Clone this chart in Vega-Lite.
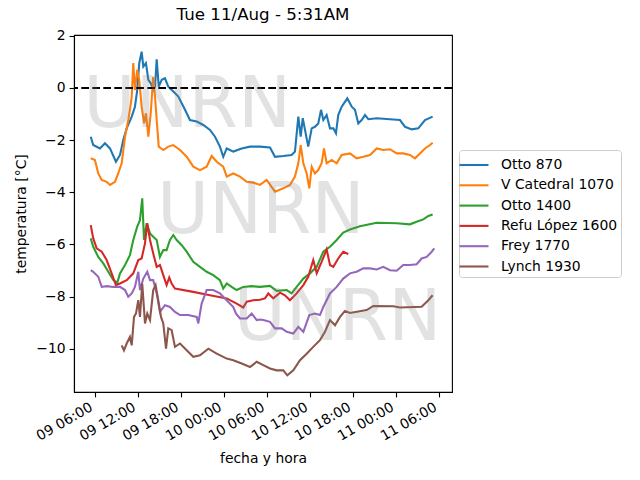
{
  "$schema": "https://vega.github.io/schema/vega-lite/v6.json",
  "autosize": {"type": "none"},
  "padding": {"left": 74, "top": 35, "right": 188, "bottom": 88},
  "width": 378,
  "height": 357,
  "background": "white",
  "title": {"text": "Tue 11/Aug - 5:31AM", "font": "DejaVu Sans", "fontSize": 16.67, "fontWeight": "normal", "color": "black", "anchor": "middle", "frame": "group", "offset": 5},
  "config": {
    "view": {"stroke": "black", "strokeWidth": 1.1},
    "axis": {"labelFont": "DejaVu Sans", "labelFontSize": 13.9, "labelColor": "black", "tickColor": "black", "tickWidth": 1.1, "tickSize": 4.9, "domainColor": "black", "domainWidth": 1.1, "titleFont": "DejaVu Sans", "titleFontSize": 13.9, "titleFontWeight": "normal", "titleColor": "black", "grid": false, "labelOverlap": false, "labelFlush": false}
  },
  "datasets": {
    "temps": [
      {"s":"Otto 870","t":"2020-08-09T05:27","v":-1.87},{"s":"Otto 870","t":"2020-08-09T05:48","v":-2.19},{"s":"Otto 870","t":"2020-08-09T06:44","v":-2.32},{"s":"Otto 870","t":"2020-08-09T07:26","v":-2.12},{"s":"Otto 870","t":"2020-08-09T08:08","v":-2.32},{"s":"Otto 870","t":"2020-08-09T08:58","v":-2.83},{"s":"Otto 870","t":"2020-08-09T09:32","v":-2.57},{"s":"Otto 870","t":"2020-08-09T09:59","v":-2.0},{"s":"Otto 870","t":"2020-08-09T10:28","v":-1.55},{"s":"Otto 870","t":"2020-08-09T11:10","v":-1.1},{"s":"Otto 870","t":"2020-08-09T11:37","v":-0.72},{"s":"Otto 870","t":"2020-08-09T11:56","v":-0.08},{"s":"Otto 870","t":"2020-08-09T12:13","v":0.95},{"s":"Otto 870","t":"2020-08-09T12:33","v":1.39},{"s":"Otto 870","t":"2020-08-09T12:47","v":0.82},{"s":"Otto 870","t":"2020-08-09T13:09","v":0.95},{"s":"Otto 870","t":"2020-08-09T13:29","v":0.31},{"s":"Otto 870","t":"2020-08-09T13:49","v":0.18},{"s":"Otto 870","t":"2020-08-09T14:10","v":-0.08},{"s":"Otto 870","t":"2020-08-09T14:25","v":0.05},{"s":"Otto 870","t":"2020-08-09T14:39","v":1.1},{"s":"Otto 870","t":"2020-08-09T14:56","v":0.05},{"s":"Otto 870","t":"2020-08-09T15:21","v":0.31},{"s":"Otto 870","t":"2020-08-09T15:48","v":0.37},{"s":"Otto 870","t":"2020-08-09T16:16","v":0.05},{"s":"Otto 870","t":"2020-08-09T16:58","v":-0.14},{"s":"Otto 870","t":"2020-08-09T17:40","v":-0.33},{"s":"Otto 870","t":"2020-08-09T18:36","v":-0.84},{"s":"Otto 870","t":"2020-08-09T19:17","v":-1.23},{"s":"Otto 870","t":"2020-08-09T20:14","v":-1.29},{"s":"Otto 870","t":"2020-08-09T21:09","v":-1.42},{"s":"Otto 870","t":"2020-08-09T22:05","v":-1.61},{"s":"Otto 870","t":"2020-08-09T22:47","v":-1.87},{"s":"Otto 870","t":"2020-08-09T23:28","v":-2.25},{"s":"Otto 870","t":"2020-08-09T23:56","v":-2.64},{"s":"Otto 870","t":"2020-08-10T00:25","v":-2.32},{"s":"Otto 870","t":"2020-08-10T01:20","v":-2.44},{"s":"Otto 870","t":"2020-08-10T02:30","v":-2.32},{"s":"Otto 870","t":"2020-08-10T03:40","v":-2.25},{"s":"Otto 870","t":"2020-08-10T05:03","v":-2.25},{"s":"Otto 870","t":"2020-08-10T06:27","v":-2.28},{"s":"Otto 870","t":"2020-08-10T07:09","v":-2.64},{"s":"Otto 870","t":"2020-08-10T08:18","v":-2.61},{"s":"Otto 870","t":"2020-08-10T09:28","v":-2.57},{"s":"Otto 870","t":"2020-08-10T09:56","v":-2.44},{"s":"Otto 870","t":"2020-08-10T10:24","v":-1.1},{"s":"Otto 870","t":"2020-08-10T10:44","v":-1.87},{"s":"Otto 870","t":"2020-08-10T11:01","v":-1.16},{"s":"Otto 870","t":"2020-08-10T11:20","v":-1.61},{"s":"Otto 870","t":"2020-08-10T11:47","v":-2.25},{"s":"Otto 870","t":"2020-08-10T12:16","v":-1.55},{"s":"Otto 870","t":"2020-08-10T12:43","v":-1.49},{"s":"Otto 870","t":"2020-08-10T13:11","v":-1.36},{"s":"Otto 870","t":"2020-08-10T13:34","v":-0.84},{"s":"Otto 870","t":"2020-08-10T13:53","v":-1.23},{"s":"Otto 870","t":"2020-08-10T14:21","v":-1.04},{"s":"Otto 870","t":"2020-08-10T14:49","v":-1.55},{"s":"Otto 870","t":"2020-08-10T15:17","v":-1.55},{"s":"Otto 870","t":"2020-08-10T15:39","v":-1.74},{"s":"Otto 870","t":"2020-08-10T15:58","v":-1.04},{"s":"Otto 870","t":"2020-08-10T16:27","v":-0.72},{"s":"Otto 870","t":"2020-08-10T17:14","v":-0.4},{"s":"Otto 870","t":"2020-08-10T17:51","v":-0.72},{"s":"Otto 870","t":"2020-08-10T18:18","v":-0.84},{"s":"Otto 870","t":"2020-08-10T18:46","v":-1.36},{"s":"Otto 870","t":"2020-08-10T19:14","v":-1.23},{"s":"Otto 870","t":"2020-08-10T19:42","v":-1.04},{"s":"Otto 870","t":"2020-08-10T20:10","v":-1.2},{"s":"Otto 870","t":"2020-08-10T21:20","v":-1.16},{"s":"Otto 870","t":"2020-08-10T23:11","v":-1.2},{"s":"Otto 870","t":"2020-08-11T00:35","v":-1.23},{"s":"Otto 870","t":"2020-08-11T01:17","v":-1.49},{"s":"Otto 870","t":"2020-08-11T02:13","v":-1.59},{"s":"Otto 870","t":"2020-08-11T03:08","v":-1.55},{"s":"Otto 870","t":"2020-08-11T04:04","v":-1.23},{"s":"Otto 870","t":"2020-08-11T05:08","v":-1.1},

      {"s":"V Catedral 1070","t":"2020-08-09T05:27","v":-2.7},{"s":"V Catedral 1070","t":"2020-08-09T06:02","v":-2.76},{"s":"V Catedral 1070","t":"2020-08-09T06:30","v":-3.28},{"s":"V Catedral 1070","t":"2020-08-09T06:59","v":-3.53},{"s":"V Catedral 1070","t":"2020-08-09T07:40","v":-3.6},{"s":"V Catedral 1070","t":"2020-08-09T08:08","v":-3.72},{"s":"V Catedral 1070","t":"2020-08-09T08:50","v":-3.6},{"s":"V Catedral 1070","t":"2020-08-09T09:17","v":-3.28},{"s":"V Catedral 1070","t":"2020-08-09T09:46","v":-2.89},{"s":"V Catedral 1070","t":"2020-08-09T10:14","v":-1.87},{"s":"V Catedral 1070","t":"2020-08-09T10:41","v":-1.23},{"s":"V Catedral 1070","t":"2020-08-09T10:55","v":-0.84},{"s":"V Catedral 1070","t":"2020-08-09T11:10","v":-0.33},{"s":"V Catedral 1070","t":"2020-08-09T11:23","v":0.95},{"s":"V Catedral 1070","t":"2020-08-09T11:37","v":-0.08},{"s":"V Catedral 1070","t":"2020-08-09T11:56","v":0.69},{"s":"V Catedral 1070","t":"2020-08-09T12:13","v":0.31},{"s":"V Catedral 1070","t":"2020-08-09T12:33","v":-0.72},{"s":"V Catedral 1070","t":"2020-08-09T12:53","v":-1.36},{"s":"V Catedral 1070","t":"2020-08-09T13:09","v":-0.97},{"s":"V Catedral 1070","t":"2020-08-09T13:29","v":-1.87},{"s":"V Catedral 1070","t":"2020-08-09T13:49","v":-0.97},{"s":"V Catedral 1070","t":"2020-08-09T14:10","v":0.43},{"s":"V Catedral 1070","t":"2020-08-09T14:25","v":-0.33},{"s":"V Catedral 1070","t":"2020-08-09T14:39","v":-1.23},{"s":"V Catedral 1070","t":"2020-08-09T14:56","v":-2.25},{"s":"V Catedral 1070","t":"2020-08-09T15:34","v":-2.38},{"s":"V Catedral 1070","t":"2020-08-09T16:16","v":-2.25},{"s":"V Catedral 1070","t":"2020-08-09T16:58","v":-2.19},{"s":"V Catedral 1070","t":"2020-08-09T17:54","v":-2.38},{"s":"V Catedral 1070","t":"2020-08-09T18:50","v":-2.64},{"s":"V Catedral 1070","t":"2020-08-09T19:45","v":-3.02},{"s":"V Catedral 1070","t":"2020-08-09T20:41","v":-3.15},{"s":"V Catedral 1070","t":"2020-08-09T21:37","v":-3.02},{"s":"V Catedral 1070","t":"2020-08-09T22:19","v":-2.61},{"s":"V Catedral 1070","t":"2020-08-09T23:01","v":-2.83},{"s":"V Catedral 1070","t":"2020-08-09T23:56","v":-3.02},{"s":"V Catedral 1070","t":"2020-08-10T00:25","v":-3.4},{"s":"V Catedral 1070","t":"2020-08-10T01:20","v":-3.28},{"s":"V Catedral 1070","t":"2020-08-10T02:16","v":-3.4},{"s":"V Catedral 1070","t":"2020-08-10T03:12","v":-3.6},{"s":"V Catedral 1070","t":"2020-08-10T04:07","v":-3.63},{"s":"V Catedral 1070","t":"2020-08-10T05:03","v":-3.72},{"s":"V Catedral 1070","t":"2020-08-10T05:59","v":-3.53},{"s":"V Catedral 1070","t":"2020-08-10T07:09","v":-3.98},{"s":"V Catedral 1070","t":"2020-08-10T08:18","v":-3.85},{"s":"V Catedral 1070","t":"2020-08-10T09:14","v":-3.72},{"s":"V Catedral 1070","t":"2020-08-10T09:56","v":-3.4},{"s":"V Catedral 1070","t":"2020-08-10T10:24","v":-2.89},{"s":"V Catedral 1070","t":"2020-08-10T10:44","v":-2.19},{"s":"V Catedral 1070","t":"2020-08-10T11:06","v":-2.89},{"s":"V Catedral 1070","t":"2020-08-10T11:34","v":-3.28},{"s":"V Catedral 1070","t":"2020-08-10T11:56","v":-3.85},{"s":"V Catedral 1070","t":"2020-08-10T12:16","v":-3.02},{"s":"V Catedral 1070","t":"2020-08-10T12:43","v":-3.28},{"s":"V Catedral 1070","t":"2020-08-10T13:11","v":-3.15},{"s":"V Catedral 1070","t":"2020-08-10T13:39","v":-2.89},{"s":"V Catedral 1070","t":"2020-08-10T13:59","v":-2.32},{"s":"V Catedral 1070","t":"2020-08-10T14:21","v":-2.89},{"s":"V Catedral 1070","t":"2020-08-10T15:03","v":-2.76},{"s":"V Catedral 1070","t":"2020-08-10T15:45","v":-2.89},{"s":"V Catedral 1070","t":"2020-08-10T16:27","v":-2.57},{"s":"V Catedral 1070","t":"2020-08-10T17:36","v":-2.51},{"s":"V Catedral 1070","t":"2020-08-10T18:32","v":-2.7},{"s":"V Catedral 1070","t":"2020-08-10T19:28","v":-2.64},{"s":"V Catedral 1070","t":"2020-08-10T20:24","v":-2.57},{"s":"V Catedral 1070","t":"2020-08-10T21:20","v":-2.32},{"s":"V Catedral 1070","t":"2020-08-10T22:15","v":-2.38},{"s":"V Catedral 1070","t":"2020-08-10T23:11","v":-2.35},{"s":"V Catedral 1070","t":"2020-08-11T00:07","v":-2.51},{"s":"V Catedral 1070","t":"2020-08-11T01:02","v":-2.51},{"s":"V Catedral 1070","t":"2020-08-11T01:58","v":-2.57},{"s":"V Catedral 1070","t":"2020-08-11T02:40","v":-2.7},{"s":"V Catedral 1070","t":"2020-08-11T03:22","v":-2.51},{"s":"V Catedral 1070","t":"2020-08-11T04:04","v":-2.32},{"s":"V Catedral 1070","t":"2020-08-11T04:46","v":-2.19},{"s":"V Catedral 1070","t":"2020-08-11T05:08","v":-2.1},

      {"s":"Otto 1400","t":"2020-08-09T05:27","v":-5.77},{"s":"Otto 1400","t":"2020-08-09T05:48","v":-6.09},{"s":"Otto 1400","t":"2020-08-09T06:30","v":-6.48},{"s":"Otto 1400","t":"2020-08-09T07:12","v":-6.73},{"s":"Otto 1400","t":"2020-08-09T07:54","v":-7.05},{"s":"Otto 1400","t":"2020-08-09T08:36","v":-7.37},{"s":"Otto 1400","t":"2020-08-09T09:09","v":-7.47},{"s":"Otto 1400","t":"2020-08-09T09:32","v":-7.11},{"s":"Otto 1400","t":"2020-08-09T10:14","v":-6.79},{"s":"Otto 1400","t":"2020-08-09T10:55","v":-6.41},{"s":"Otto 1400","t":"2020-08-09T11:23","v":-5.83},{"s":"Otto 1400","t":"2020-08-09T11:56","v":-5.32},{"s":"Otto 1400","t":"2020-08-09T12:19","v":-5.07},{"s":"Otto 1400","t":"2020-08-09T12:38","v":-4.23},{"s":"Otto 1400","t":"2020-08-09T12:53","v":-5.83},{"s":"Otto 1400","t":"2020-08-09T13:15","v":-5.19},{"s":"Otto 1400","t":"2020-08-09T13:43","v":-5.58},{"s":"Otto 1400","t":"2020-08-09T14:10","v":-5.71},{"s":"Otto 1400","t":"2020-08-09T14:39","v":-5.83},{"s":"Otto 1400","t":"2020-08-09T15:06","v":-6.48},{"s":"Otto 1400","t":"2020-08-09T15:34","v":-6.22},{"s":"Otto 1400","t":"2020-08-09T16:02","v":-6.22},{"s":"Otto 1400","t":"2020-08-09T16:30","v":-5.83},{"s":"Otto 1400","t":"2020-08-09T16:58","v":-5.64},{"s":"Otto 1400","t":"2020-08-09T17:26","v":-5.83},{"s":"Otto 1400","t":"2020-08-09T18:08","v":-6.03},{"s":"Otto 1400","t":"2020-08-09T18:50","v":-6.28},{"s":"Otto 1400","t":"2020-08-09T19:45","v":-6.67},{"s":"Otto 1400","t":"2020-08-09T20:41","v":-6.86},{"s":"Otto 1400","t":"2020-08-09T21:37","v":-7.05},{"s":"Otto 1400","t":"2020-08-09T22:32","v":-7.18},{"s":"Otto 1400","t":"2020-08-09T23:28","v":-7.37},{"s":"Otto 1400","t":"2020-08-09T23:56","v":-7.69},{"s":"Otto 1400","t":"2020-08-10T00:25","v":-7.5},{"s":"Otto 1400","t":"2020-08-10T01:06","v":-7.63},{"s":"Otto 1400","t":"2020-08-10T01:48","v":-7.75},{"s":"Otto 1400","t":"2020-08-10T02:43","v":-7.63},{"s":"Otto 1400","t":"2020-08-10T03:54","v":-7.6},{"s":"Otto 1400","t":"2020-08-10T05:03","v":-7.63},{"s":"Otto 1400","t":"2020-08-10T06:27","v":-7.59},{"s":"Otto 1400","t":"2020-08-10T07:23","v":-7.78},{"s":"Otto 1400","t":"2020-08-10T08:47","v":-7.75},{"s":"Otto 1400","t":"2020-08-10T09:28","v":-7.88},{"s":"Otto 1400","t":"2020-08-10T10:10","v":-7.63},{"s":"Otto 1400","t":"2020-08-10T11:06","v":-7.31},{"s":"Otto 1400","t":"2020-08-10T12:02","v":-7.11},{"s":"Otto 1400","t":"2020-08-10T12:58","v":-6.86},{"s":"Otto 1400","t":"2020-08-10T13:53","v":-6.28},{"s":"Otto 1400","t":"2020-08-10T14:49","v":-6.09},{"s":"Otto 1400","t":"2020-08-10T15:45","v":-5.83},{"s":"Otto 1400","t":"2020-08-10T16:40","v":-5.55},{"s":"Otto 1400","t":"2020-08-10T17:36","v":-5.43},{"s":"Otto 1400","t":"2020-08-10T19:00","v":-5.3},{"s":"Otto 1400","t":"2020-08-10T21:20","v":-5.17},{"s":"Otto 1400","t":"2020-08-11T00:07","v":-5.19},{"s":"Otto 1400","t":"2020-08-11T01:58","v":-5.23},{"s":"Otto 1400","t":"2020-08-11T02:54","v":-5.13},{"s":"Otto 1400","t":"2020-08-11T03:50","v":-5.04},{"s":"Otto 1400","t":"2020-08-11T04:32","v":-4.91},{"s":"Otto 1400","t":"2020-08-11T05:08","v":-4.85},

      {"s":"Refu López 1600","t":"2020-08-09T05:27","v":-5.26},{"s":"Refu López 1600","t":"2020-08-09T05:48","v":-5.77},{"s":"Refu López 1600","t":"2020-08-09T06:17","v":-6.15},{"s":"Refu López 1600","t":"2020-08-09T06:59","v":-6.28},{"s":"Refu López 1600","t":"2020-08-09T07:40","v":-6.6},{"s":"Refu López 1600","t":"2020-08-09T08:22","v":-7.11},{"s":"Refu López 1600","t":"2020-08-09T08:58","v":-7.56},{"s":"Refu López 1600","t":"2020-08-09T09:32","v":-7.5},{"s":"Refu López 1600","t":"2020-08-09T10:28","v":-7.37},{"s":"Refu López 1600","t":"2020-08-09T11:23","v":-7.11},{"s":"Refu López 1600","t":"2020-08-09T12:05","v":-6.6},{"s":"Refu López 1600","t":"2020-08-09T12:33","v":-6.54},{"s":"Refu López 1600","t":"2020-08-09T13:01","v":-5.96},{"s":"Refu López 1600","t":"2020-08-09T13:20","v":-5.19},{"s":"Refu López 1600","t":"2020-08-09T13:43","v":-5.83},{"s":"Refu López 1600","t":"2020-08-09T14:10","v":-6.35},{"s":"Refu López 1600","t":"2020-08-09T14:39","v":-6.86},{"s":"Refu López 1600","t":"2020-08-09T15:06","v":-6.79},{"s":"Refu López 1600","t":"2020-08-09T15:34","v":-7.18},{"s":"Refu López 1600","t":"2020-08-09T16:02","v":-7.56},{"s":"Refu López 1600","t":"2020-08-09T16:24","v":-7.27},{"s":"Refu López 1600","t":"2020-08-09T16:44","v":-7.5},{"s":"Refu López 1600","t":"2020-08-09T17:12","v":-7.69},{"s":"Refu López 1600","t":"2020-08-09T19:45","v":-7.82},{"s":"Refu López 1600","t":"2020-08-09T22:05","v":-7.95},{"s":"Refu López 1600","t":"2020-08-10T00:25","v":-8.07},{"s":"Refu López 1600","t":"2020-08-10T01:48","v":-8.27},{"s":"Refu López 1600","t":"2020-08-10T02:43","v":-8.42},{"s":"Refu López 1600","t":"2020-08-10T03:12","v":-8.2},{"s":"Refu López 1600","t":"2020-08-10T04:07","v":-8.14},{"s":"Refu López 1600","t":"2020-08-10T05:03","v":-8.12},{"s":"Refu López 1600","t":"2020-08-10T05:45","v":-8.07},{"s":"Refu López 1600","t":"2020-08-10T06:13","v":-7.88},{"s":"Refu López 1600","t":"2020-08-10T06:55","v":-8.07},{"s":"Refu López 1600","t":"2020-08-10T07:51","v":-7.85},{"s":"Refu López 1600","t":"2020-08-10T08:32","v":-7.95},{"s":"Refu López 1600","t":"2020-08-10T09:14","v":-8.14},{"s":"Refu López 1600","t":"2020-08-10T10:10","v":-7.88},{"s":"Refu López 1600","t":"2020-08-10T11:06","v":-7.56},{"s":"Refu López 1600","t":"2020-08-10T11:47","v":-7.24},{"s":"Refu López 1600","t":"2020-08-10T12:29","v":-6.6},{"s":"Refu López 1600","t":"2020-08-10T12:58","v":-7.11},{"s":"Refu López 1600","t":"2020-08-10T13:39","v":-6.67},{"s":"Refu López 1600","t":"2020-08-10T14:21","v":-6.19},{"s":"Refu López 1600","t":"2020-08-10T14:49","v":-6.79},{"s":"Refu López 1600","t":"2020-08-10T15:17","v":-6.86},{"s":"Refu López 1600","t":"2020-08-10T15:58","v":-6.54},{"s":"Refu López 1600","t":"2020-08-10T16:40","v":-6.28},{"s":"Refu López 1600","t":"2020-08-10T17:22","v":-6.37},

      {"s":"Frey 1770","t":"2020-08-09T05:27","v":-6.99},{"s":"Frey 1770","t":"2020-08-09T05:48","v":-7.05},{"s":"Frey 1770","t":"2020-08-09T06:30","v":-7.24},{"s":"Frey 1770","t":"2020-08-09T06:59","v":-7.63},{"s":"Frey 1770","t":"2020-08-09T07:40","v":-7.6},{"s":"Frey 1770","t":"2020-08-09T08:36","v":-7.63},{"s":"Frey 1770","t":"2020-08-09T09:32","v":-7.63},{"s":"Frey 1770","t":"2020-08-09T10:14","v":-7.75},{"s":"Frey 1770","t":"2020-08-09T10:41","v":-8.01},{"s":"Frey 1770","t":"2020-08-09T11:10","v":-7.88},{"s":"Frey 1770","t":"2020-08-09T11:37","v":-7.63},{"s":"Frey 1770","t":"2020-08-09T12:05","v":-7.05},{"s":"Frey 1770","t":"2020-08-09T12:19","v":-7.75},{"s":"Frey 1770","t":"2020-08-09T12:47","v":-7.31},{"s":"Frey 1770","t":"2020-08-09T13:20","v":-7.05},{"s":"Frey 1770","t":"2020-08-09T13:43","v":-7.37},{"s":"Frey 1770","t":"2020-08-09T14:10","v":-7.37},{"s":"Frey 1770","t":"2020-08-09T14:39","v":-7.88},{"s":"Frey 1770","t":"2020-08-09T15:06","v":-8.59},{"s":"Frey 1770","t":"2020-08-09T15:48","v":-8.33},{"s":"Frey 1770","t":"2020-08-09T16:30","v":-8.4},{"s":"Frey 1770","t":"2020-08-09T17:12","v":-8.59},{"s":"Frey 1770","t":"2020-08-09T17:54","v":-8.71},{"s":"Frey 1770","t":"2020-08-09T19:03","v":-8.71},{"s":"Frey 1770","t":"2020-08-09T20:14","v":-8.78},{"s":"Frey 1770","t":"2020-08-09T20:27","v":-9.03},{"s":"Frey 1770","t":"2020-08-09T20:55","v":-8.27},{"s":"Frey 1770","t":"2020-08-09T21:37","v":-7.75},{"s":"Frey 1770","t":"2020-08-09T22:32","v":-7.75},{"s":"Frey 1770","t":"2020-08-09T23:28","v":-7.88},{"s":"Frey 1770","t":"2020-08-10T00:25","v":-8.14},{"s":"Frey 1770","t":"2020-08-10T01:20","v":-8.4},{"s":"Frey 1770","t":"2020-08-10T01:42","v":-8.65},{"s":"Frey 1770","t":"2020-08-10T02:16","v":-8.84},{"s":"Frey 1770","t":"2020-08-10T03:12","v":-8.84},{"s":"Frey 1770","t":"2020-08-10T03:54","v":-8.65},{"s":"Frey 1770","t":"2020-08-10T04:36","v":-8.9},{"s":"Frey 1770","t":"2020-08-10T05:03","v":-8.88},{"s":"Frey 1770","t":"2020-08-10T05:31","v":-8.9},{"s":"Frey 1770","t":"2020-08-10T06:27","v":-8.97},{"s":"Frey 1770","t":"2020-08-10T07:09","v":-9.22},{"s":"Frey 1770","t":"2020-08-10T08:05","v":-9.22},{"s":"Frey 1770","t":"2020-08-10T08:47","v":-9.35},{"s":"Frey 1770","t":"2020-08-10T09:42","v":-9.42},{"s":"Frey 1770","t":"2020-08-10T10:24","v":-9.16},{"s":"Frey 1770","t":"2020-08-10T11:06","v":-9.35},{"s":"Frey 1770","t":"2020-08-10T11:56","v":-8.71},{"s":"Frey 1770","t":"2020-08-10T12:43","v":-8.65},{"s":"Frey 1770","t":"2020-08-10T13:25","v":-8.71},{"s":"Frey 1770","t":"2020-08-10T13:53","v":-8.4},{"s":"Frey 1770","t":"2020-08-10T14:49","v":-7.88},{"s":"Frey 1770","t":"2020-08-10T15:45","v":-7.63},{"s":"Frey 1770","t":"2020-08-10T16:40","v":-7.31},{"s":"Frey 1770","t":"2020-08-10T17:36","v":-7.11},{"s":"Frey 1770","t":"2020-08-10T18:32","v":-7.05},{"s":"Frey 1770","t":"2020-08-10T19:28","v":-6.92},{"s":"Frey 1770","t":"2020-08-10T20:24","v":-6.92},{"s":"Frey 1770","t":"2020-08-10T21:20","v":-6.96},{"s":"Frey 1770","t":"2020-08-10T22:15","v":-6.86},{"s":"Frey 1770","t":"2020-08-10T23:11","v":-6.99},{"s":"Frey 1770","t":"2020-08-11T00:07","v":-7.01},{"s":"Frey 1770","t":"2020-08-11T01:02","v":-6.79},{"s":"Frey 1770","t":"2020-08-11T01:58","v":-6.79},{"s":"Frey 1770","t":"2020-08-11T02:54","v":-6.76},{"s":"Frey 1770","t":"2020-08-11T03:36","v":-6.54},{"s":"Frey 1770","t":"2020-08-11T04:18","v":-6.48},{"s":"Frey 1770","t":"2020-08-11T05:00","v":-6.28},{"s":"Frey 1770","t":"2020-08-11T05:22","v":-6.15},

      {"s":"Lynch 1930","t":"2020-08-09T09:46","v":-9.87},{"s":"Lynch 1930","t":"2020-08-09T10:05","v":-10.06},{"s":"Lynch 1930","t":"2020-08-09T10:28","v":-9.8},{"s":"Lynch 1930","t":"2020-08-09T10:55","v":-9.55},{"s":"Lynch 1930","t":"2020-08-09T11:10","v":-9.87},{"s":"Lynch 1930","t":"2020-08-09T11:29","v":-8.78},{"s":"Lynch 1930","t":"2020-08-09T11:46","v":-8.65},{"s":"Lynch 1930","t":"2020-08-09T12:05","v":-8.14},{"s":"Lynch 1930","t":"2020-08-09T12:19","v":-8.78},{"s":"Lynch 1930","t":"2020-08-09T12:38","v":-7.5},{"s":"Lynch 1930","t":"2020-08-09T13:01","v":-9.03},{"s":"Lynch 1930","t":"2020-08-09T13:20","v":-8.65},{"s":"Lynch 1930","t":"2020-08-09T13:43","v":-8.9},{"s":"Lynch 1930","t":"2020-08-09T14:10","v":-7.75},{"s":"Lynch 1930","t":"2020-08-09T14:30","v":-7.56},{"s":"Lynch 1930","t":"2020-08-09T14:52","v":-8.14},{"s":"Lynch 1930","t":"2020-08-09T15:15","v":-8.78},{"s":"Lynch 1930","t":"2020-08-09T15:34","v":-9.03},{"s":"Lynch 1930","t":"2020-08-09T15:57","v":-10.0},{"s":"Lynch 1930","t":"2020-08-09T16:16","v":-9.22},{"s":"Lynch 1930","t":"2020-08-09T16:44","v":-9.29},{"s":"Lynch 1930","t":"2020-08-09T17:12","v":-9.93},{"s":"Lynch 1930","t":"2020-08-09T17:54","v":-9.8},{"s":"Lynch 1930","t":"2020-08-09T18:50","v":-10.06},{"s":"Lynch 1930","t":"2020-08-09T19:45","v":-10.31},{"s":"Lynch 1930","t":"2020-08-09T20:41","v":-10.25},{"s":"Lynch 1930","t":"2020-08-09T21:51","v":-10.0},{"s":"Lynch 1930","t":"2020-08-09T23:01","v":-10.19},{"s":"Lynch 1930","t":"2020-08-10T00:25","v":-10.38},{"s":"Lynch 1930","t":"2020-08-10T01:20","v":-10.44},{"s":"Lynch 1930","t":"2020-08-10T02:30","v":-10.57},{"s":"Lynch 1930","t":"2020-08-10T03:40","v":-10.7},{"s":"Lynch 1930","t":"2020-08-10T04:36","v":-10.5},{"s":"Lynch 1930","t":"2020-08-10T05:31","v":-10.63},{"s":"Lynch 1930","t":"2020-08-10T06:27","v":-10.76},{"s":"Lynch 1930","t":"2020-08-10T07:23","v":-10.83},{"s":"Lynch 1930","t":"2020-08-10T08:18","v":-10.83},{"s":"Lynch 1930","t":"2020-08-10T08:52","v":-11.02},{"s":"Lynch 1930","t":"2020-08-10T09:42","v":-10.83},{"s":"Lynch 1930","t":"2020-08-10T10:38","v":-10.44},{"s":"Lynch 1930","t":"2020-08-10T11:34","v":-10.19},{"s":"Lynch 1930","t":"2020-08-10T12:29","v":-9.93},{"s":"Lynch 1930","t":"2020-08-10T13:25","v":-9.67},{"s":"Lynch 1930","t":"2020-08-10T14:07","v":-9.35},{"s":"Lynch 1930","t":"2020-08-10T14:49","v":-8.9},{"s":"Lynch 1930","t":"2020-08-10T15:31","v":-9.1},{"s":"Lynch 1930","t":"2020-08-10T16:13","v":-8.78},{"s":"Lynch 1930","t":"2020-08-10T16:54","v":-8.55},{"s":"Lynch 1930","t":"2020-08-10T17:36","v":-8.63},{"s":"Lynch 1930","t":"2020-08-10T19:56","v":-8.52},{"s":"Lynch 1930","t":"2020-08-10T20:51","v":-8.36},{"s":"Lynch 1930","t":"2020-08-10T23:39","v":-8.37},{"s":"Lynch 1930","t":"2020-08-11T00:35","v":-8.42},{"s":"Lynch 1930","t":"2020-08-11T03:36","v":-8.39},{"s":"Lynch 1930","t":"2020-08-11T04:32","v":-8.14},{"s":"Lynch 1930","t":"2020-08-11T05:08","v":-7.95}
    ]
  },
  "layer": [
    {
      "data": {"name": "temps", "format": {"parse": {"t": "date"}}},
      "mark": {"type": "line", "strokeWidth": 2.08, "interpolate": "linear"},
      "encoding": {
        "x": {"field": "t", "type": "temporal", "title": "fecha y hora",
          "scale": {"domain": [{"year": 2020, "month": 8, "date": 9, "hours": 3, "minutes": 7}, {"year": 2020, "month": 8, "date": 11, "hours": 7, "minutes": 50}], "nice": false},
          "axis": {"format": "%d %H:%M", "labelAngle": -30, "labelAlign": "right", "labelBaseline": "top", "labelPadding": 3, "labelOffset": -7, "titlePadding": 9,
            "values": [
              {"year": 2020, "month": 8, "date": 9, "hours": 6},
              {"year": 2020, "month": 8, "date": 9, "hours": 12},
              {"year": 2020, "month": 8, "date": 9, "hours": 18},
              {"year": 2020, "month": 8, "date": 10, "hours": 0},
              {"year": 2020, "month": 8, "date": 10, "hours": 6},
              {"year": 2020, "month": 8, "date": 10, "hours": 12},
              {"year": 2020, "month": 8, "date": 10, "hours": 18},
              {"year": 2020, "month": 8, "date": 11, "hours": 0},
              {"year": 2020, "month": 8, "date": 11, "hours": 6}
            ]}},
        "y": {"field": "v", "type": "quantitative", "title": "temperatura [°C]",
          "scale": {"domain": [-11.66, 2.03], "nice": false, "zero": false},
          "axis": {"values": [-10, -8, -6, -4, -2, 0, 2], "labelPadding": 4, "titlePadding": 7}},
        "color": {"field": "s", "type": "nominal",
          "scale": {"domain": ["Otto 870", "V Catedral 1070", "Otto 1400", "Refu López 1600", "Frey 1770", "Lynch 1930"], "range": ["#1f77b4", "#ff7f0e", "#2ca02c", "#d62728", "#9467bd", "#8c564b"]},
          "legend": {"title": null, "orient": "none", "legendX": 385, "legendY": 115, "symbolType": "M-1.374,0H1.374", "symbolSize": 445, "symbolStrokeWidth": 2.08, "labelFont": "DejaVu Sans", "labelFontSize": 13.9, "labelColor": "black", "labelOffset": 15, "rowPadding": 1.3, "padding": 3, "strokeColor": "#cccccc", "fillColor": "white", "cornerRadius": 3}}
      }
    },
    {
      "data": {"values": [{}]},
      "mark": {"type": "rule", "color": "black", "strokeWidth": 2.08, "strokeDash": [7.7, 3.3]},
      "encoding": {"y": {"datum": 0}}
    },
    {
      "data": {"values": [{}]},
      "mark": {"type": "text", "text": "UNRN", "font": "DejaVu Sans", "fontSize": 71, "fill": "gray", "opacity": 0.22, "align": "center", "baseline": "alphabetic"},
      "encoding": {"x": {"datum": {"year": 2020, "month": 8, "date": 9, "hours": 18, "minutes": 55}, "type": "temporal"}, "y": {"datum": -1.486}}
    },
    {
      "data": {"values": [{}]},
      "mark": {"type": "text", "text": "UNRN", "font": "DejaVu Sans", "fontSize": 71, "fill": "gray", "opacity": 0.22, "align": "center", "baseline": "alphabetic"},
      "encoding": {"x": {"datum": {"year": 2020, "month": 8, "date": 10, "hours": 5, "minutes": 10}, "type": "temporal"}, "y": {"datum": -5.578}}
    },
    {
      "data": {"values": [{}]},
      "mark": {"type": "text", "text": "UNRN", "font": "DejaVu Sans", "fontSize": 71, "fill": "gray", "opacity": 0.22, "align": "center", "baseline": "alphabetic"},
      "encoding": {"x": {"datum": {"year": 2020, "month": 8, "date": 10, "hours": 15, "minutes": 52}, "type": "temporal"}, "y": {"datum": -9.674}}
    }
  ]
}
